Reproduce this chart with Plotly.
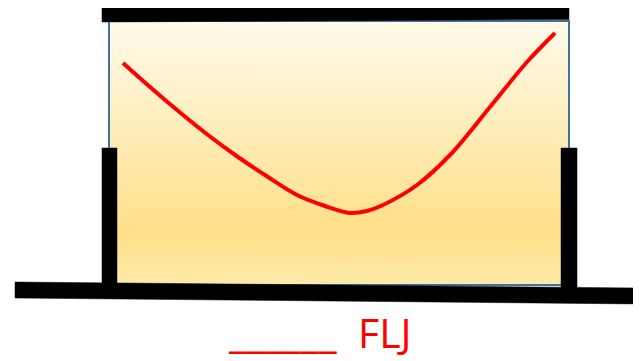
import plotly.graph_objects as go

# red curve (pixel coordinates, y down)
curve_x = [123, 150, 177, 208, 238, 268, 297, 325, 350, 367, 383, 417, 450, 490, 527, 555]
curve_y = [63, 87, 110, 135, 157, 177, 195, 206, 213, 211, 205, 185, 155, 107, 62, 33]

# box with gradient fill
box_x = [109, 569, 569, 109, 109]
box_y = [21, 21, 285, 285, 21]

# black bars (outlines)
top_bar_x = [102, 569, 569, 102, 102]
top_bar_y = [6, 3.5, 19.5, 22, 6]
bottom_bar_x = [15, 641, 641, 15, 15]
bottom_bar_y = [282, 288, 304, 298, 282]
left_post_x = [102, 117, 117, 102, 102]
left_post_y = [148, 148, 290, 290, 148]
right_post_x = [561, 577, 577, 561, 561]
right_post_y = [148, 148, 295, 295, 148]

label = "______\u00a0 FLJ"

# page body has an 8px margin, so the figure is shrunk and the ranges start at 8
off = 8

fig = go.Figure()

fig.add_trace(go.Scatter(
    x=box_x, y=box_y, mode="lines", fill="toself",
    line=dict(color="#41719c", width=2),
    fillgradient=dict(type="vertical", start=21, stop=285,
                      colorscale=[[0, "#fffaea"], [0.45, "#ffecb5"],
                                  [0.8, "#ffdf88"], [1, "#ffeaa9"]]),
    hoverinfo="skip"))

for bx, by in [(top_bar_x, top_bar_y), (bottom_bar_x, bottom_bar_y),
               (left_post_x, left_post_y), (right_post_x, right_post_y)]:
    fig.add_trace(go.Scatter(x=bx, y=by, mode="lines", fill="toself",
                             fillcolor="black", line=dict(color="black", width=0.5),
                             hoverinfo="skip"))

fig.add_trace(go.Scatter(x=curve_x, y=curve_y, mode="lines",
                         line=dict(color="#ff0000", width=4, shape="spline", smoothing=1),
                         hoverinfo="skip"))

fig.add_annotation(x=226, y=332, xref="x", yref="y", xanchor="left", yanchor="middle",
                   text=label, showarrow=False,
                   font=dict(family="Liberation Sans Narrow, Open Sans, sans-serif",
                             size=41, color="#ff0000"))

fig.update_layout(
    width=641 - off, height=361 - off, margin=dict(l=0, r=0, t=0, b=0),
    paper_bgcolor="white", plot_bgcolor="white", showlegend=False,
    xaxis=dict(range=[off, 641], visible=False, fixedrange=True),
    yaxis=dict(range=[361, off], visible=False, fixedrange=True),
)

fig.write_html("out.html")
